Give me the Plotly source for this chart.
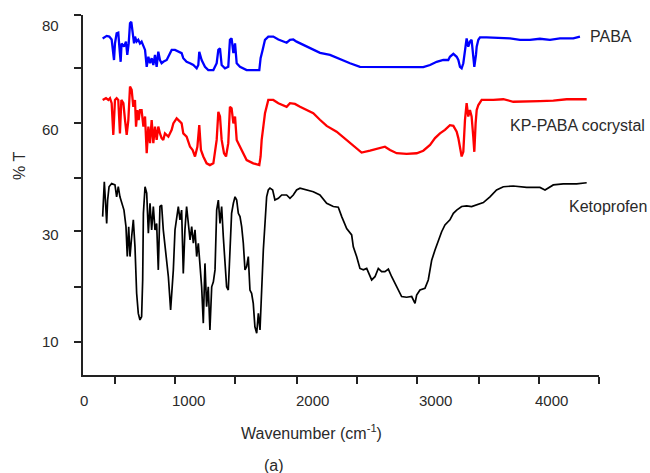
import plotly.graph_objects as go

# ---------------- data ----------------
paba_wn = [210, 244, 266, 286, 306, 314, 328, 342, 351, 362, 370, 390, 407, 418, 430, 441, 452, 463, 475, 483,
           497, 511, 525, 539, 554, 568, 582, 596, 610, 624, 638, 652, 666, 680, 694, 708, 722, 751, 779, 793,
           821, 849, 877, 891, 919, 948, 976, 1004, 1018, 1026, 1046, 1074, 1102, 1145, 1173, 1187, 1201, 1215,
           1243, 1271, 1285, 1299, 1314, 1328, 1342, 1370, 1398, 1426, 1533, 1544, 1561, 1581, 1609, 1651, 1694,
           1736, 1764, 1792, 1820, 1848, 1905, 1961, 2017, 2046, 2130, 2215, 2299, 2383, 2468, 2552, 2637, 2777,
           2918, 2975, 3031, 3087, 3129, 3143, 3172, 3200, 3214, 3228, 3242, 3256, 3270, 3284, 3298, 3312, 3326,
           3340, 3349, 3363, 3369, 3383, 3397, 3453, 3594, 3650, 3735, 3819, 3903, 3988, 4072, 4185, 4241]
paba_t = [93.5, 94.2, 94.0, 93.2, 87.5, 92.1, 94.9, 95.1, 91.2, 87.0, 92.1, 91.2, 92.6, 88.9, 92.1, 97.7, 98.1, 94.9, 92.1, 94.0,
          92.6, 93.1, 92.1, 92.6, 91.2, 90.3, 85.6, 88.4, 86.6, 88.0, 86.1, 88.9, 85.6, 89.8, 87.5, 86.6, 87.0, 87.5, 89.4, 90.3,
          90.3, 89.8, 89.4, 88.0, 87.0, 86.6, 86.1, 85.2, 86.1, 89.8, 87.5, 85.6, 84.7, 84.7, 86.6, 90.3, 90.7, 86.1,
          85.2, 85.6, 93.1, 93.5, 89.4, 92.1, 86.6, 85.6, 85.2, 84.7, 84.7, 88.0, 90.3, 93.1, 94.0, 94.0, 93.2,
          92.6, 92.3, 93.1, 93.2, 92.6, 91.7, 90.7, 89.8, 89.5, 88.9, 87.7, 86.6, 85.6, 85.6, 85.6, 85.4, 85.4,
          85.5, 86.1, 87.0, 87.5, 87.5, 88.4, 89.2, 88.4, 87.5, 85.6, 85.2, 86.6, 90.3, 93.5, 91.2, 92.6, 93.1,
          88.4, 85.6, 88.9, 91.2, 93.1, 93.8, 93.8, 93.7, 93.5, 93.1, 93.1, 93.4, 93.1, 93.5, 93.5, 94.0]

cocrystal_wn = [210, 238, 258, 272, 286, 300, 314, 328, 342, 356, 368, 385, 399, 413, 427, 441, 455, 469, 483, 492,
                503, 514, 525, 539, 554, 568, 582, 596, 610, 624, 638, 652, 666, 680, 694, 708, 722, 736, 765, 793,
                807, 835, 863, 877, 891, 919, 948, 970, 990, 1010, 1026, 1040, 1060, 1088, 1116, 1145, 1173, 1187,
                1201, 1215, 1235, 1252, 1271, 1285, 1299, 1314, 1328, 1342, 1370, 1398, 1426, 1482, 1533, 1544,
                1553, 1567, 1581, 1609, 1651, 1694, 1736, 1764, 1792, 1834, 1877, 1933, 1989, 2045, 2102, 2186,
                2271, 2355, 2397, 2468, 2552, 2594, 2637, 2693, 2777, 2862, 2918, 2975, 3017, 3059, 3101, 3143,
                3172, 3200, 3214, 3228, 3242, 3256, 3270, 3284, 3298, 3312, 3326, 3340, 3349, 3360, 3369, 3383,
                3411, 3509, 3594, 3678, 3791, 3903, 4016, 4129, 4298]
cocrystal_t = [76.4, 76.9, 76.4, 76.9, 75.5, 66.7, 76.4, 76.9, 76.4, 67.1, 76.4, 75.5, 70.8, 66.7, 70.8, 80.1, 79.2, 74.5, 76.4, 69.0,
               73.6, 70.8, 73.6, 73.6, 69.0, 71.8, 61.6, 69.0, 64.4, 70.8, 64.4, 69.0, 65.3, 69.0, 67.1, 65.8, 65.3, 67.1, 66.2, 68.1,
               69.9, 71.3, 70.4, 69.9, 67.1, 66.2, 63.4, 62.5, 60.7, 63.4, 69.4, 62.5, 60.7, 58.8, 58.3, 58.8, 65.3, 73.1,
               71.8, 65.3, 61.6, 60.7, 64.4, 74.5, 74.1, 69.9, 71.8, 65.3, 63.4, 61.6, 59.7, 58.8, 58.3, 60.7,
               65.3, 69.0, 72.7, 76.4, 76.4, 75.5, 75.0, 74.5, 75.5, 75.3, 74.5, 73.6, 72.7, 70.9, 69.2, 67.6,
               65.3, 63.0, 61.8, 62.3, 63.0, 63.4, 62.5, 61.6, 61.4, 61.6, 62.3, 63.9, 65.8, 67.1, 68.1, 69.4,
               69.2, 67.6, 65.8, 63.4, 60.7, 62.0, 70.8, 75.5, 71.8, 73.6, 71.8, 66.2, 62.0, 69.9, 73.6, 75.0,
               76.4, 76.4, 76.6, 75.9, 75.9, 76.1, 76.2, 76.6, 76.6]

keto_wn = [210, 216, 224, 233, 244, 252, 264, 286, 314, 328, 342, 356, 370, 390, 407, 418, 430, 441, 455, 469,
           483, 497, 511, 525, 539, 548, 554, 568, 582, 596, 610, 624, 638, 652, 666, 680, 694, 708, 722, 736,
           751, 765, 784, 798, 807, 821, 835, 849, 863, 877, 891, 905, 919, 933, 948, 962, 976, 990, 1004, 1018,
           1032, 1046, 1060, 1074, 1088, 1102, 1116, 1131, 1145, 1159, 1173, 1187, 1201, 1215, 1229, 1243, 1257,
           1271, 1285, 1299, 1314, 1328, 1342, 1356, 1370, 1384, 1398, 1412, 1426, 1440, 1454, 1468, 1482, 1496,
           1511, 1525, 1539, 1553, 1567, 1581, 1595, 1609, 1623, 1646, 1665, 1694, 1722, 1764, 1792, 1820, 1848,
           1877, 1933, 1989, 2045, 2102, 2158, 2200, 2229, 2271, 2313, 2327, 2355, 2383, 2412, 2440, 2482, 2510,
           2538, 2566, 2594, 2623, 2651, 2693, 2735, 2777, 2820, 2848, 2862, 2890, 2932, 2960, 2975, 2989, 3017,
           3045, 3073, 3101, 3143, 3172, 3200, 3242, 3284, 3326, 3369, 3425, 3481, 3537, 3594, 3678, 3791, 3903,
           3946, 3988, 4016, 4100, 4213, 4298]
keto_t = [44.0, 51.4, 53.7, 48.6, 42.1, 48.6, 52.3, 53.2, 52.8, 49.5, 52.3, 49.5, 47.7, 45.8, 41.2, 32.9, 41.2, 32.9, 38.4, 43.1,
          35.6, 22.7, 17.1, 15.3, 16.2, 26.4, 44.9, 52.3, 50.5, 39.4, 47.7, 40.3, 46.8, 40.3, 42.1, 29.2, 46.8, 47.2, 40.3, 35.6,
          31.9, 27.3, 18.1, 24.5, 29.2, 40.3, 44.0, 46.8, 43.1, 45.8, 28.2, 40.3, 46.8, 43.1, 37.5, 41.2, 36.6, 40.3, 32.9, 36.6,
          31.0, 24.5, 14.4, 31.0, 19.0, 24.5, 12.5, 24.5, 25.9, 29.2, 45.8, 48.6, 42.1, 46.8, 38.4, 31.0, 24.5,
          23.6, 34.7, 44.9, 47.7, 49.5, 48.6, 44.9, 44.0, 41.2, 36.6, 29.2, 30.1, 32.9, 23.6, 22.7, 19.9, 13.4,
          11.6, 17.1, 12.5, 24.5, 34.7, 42.1, 49.5, 51.4, 51.9, 51.4, 48.6, 49.1, 50.0, 50.0, 49.1, 50.0, 51.4,
          51.9, 51.4, 50.9, 50.0, 47.7, 46.8, 46.6, 44.0, 40.7, 38.9, 35.6, 32.9, 29.6, 29.2, 29.6, 26.4, 27.3,
          29.6, 28.7, 28.7, 29.4, 27.3, 24.5, 21.8, 21.6, 21.8, 19.9, 22.2, 23.6, 24.1, 26.4, 29.2, 31.9, 34.7,
          37.5, 39.8, 41.7, 43.1, 44.9, 45.8, 46.8, 47.0, 46.8, 47.2, 47.9, 49.5, 51.4, 52.3, 52.5, 52.1, 52.1,
          51.4, 52.1, 52.8, 53.1, 53.1, 53.4]

series_names = ["PABA", "KP-PABA cocrystal", "Ketoprofen"]
series_colors = ["#0000FF", "#FF0000", "#000000"]

# axis tick marks and tick labels
x_tick_marks = [314, 821, 1328, 1851, 2358, 2865, 3389, 3895, 4402]
x_label_pos = [52, 931, 1986, 3025, 4005]
x_label_text = ["0", "1000", "2000", "3000", "4000"]
y_tick_marks = [9.2, 24.4, 40, 54.7, 70, 85.3, 100]
y_label_pos = [9.4, 38.9, 68.3, 97.2]
y_label_text = ["10", "30", "60", "80"]

FONT = "Liberation Sans, Arial, sans-serif"
TXT = "#2a2a2a"
AX = "#222222"

fig = go.Figure()
for wn, t, name, col, w in [
    (paba_wn, paba_t, series_names[0], series_colors[0], 2.3),
    (cocrystal_wn, cocrystal_t, series_names[1], series_colors[1], 2.3),
    (keto_wn, keto_t, series_names[2], series_colors[2], 1.7),
]:
    fig.add_trace(go.Scatter(x=wn, y=t, mode="lines", name=name,
                             line=dict(color=col, width=w), showlegend=False))

fig.update_layout(
    width=650, height=473,
    margin=dict(l=83, r=51, t=15, b=98),
    paper_bgcolor="white", plot_bgcolor="white",
    font=dict(family=FONT, size=15, color=TXT),
    xaxis=dict(range=[44, 4402], showgrid=False, zeroline=False,
               showline=True, linecolor=AX, linewidth=1.6,
               tickmode="array", tickvals=x_tick_marks, showticklabels=False,
               ticks="outside", ticklen=7, tickwidth=1.5, tickcolor=AX),
    yaxis=dict(range=[0, 100], showgrid=False, zeroline=False,
               showline=True, linecolor=AX, linewidth=1.6,
               tickmode="array", tickvals=y_tick_marks, showticklabels=False,
               ticks="outside", ticklen=7, tickwidth=1.5, tickcolor=AX),
)

# tick labels (placed independently of the tick marks, as in the reference)
for v, s in zip(x_label_pos, x_label_text):
    fig.add_annotation(text=s, x=v, y=-0.072, xref="x", yref="paper",
                       xanchor="center", yanchor="middle", showarrow=False,
                       font=dict(size=15, color=TXT, family=FONT))
for v, s in zip(y_label_pos, y_label_text):
    fig.add_annotation(text=s, x=-0.043, y=v, xref="paper", yref="y",
                       xanchor="right", yanchor="middle", showarrow=False,
                       font=dict(size=15, color=TXT, family=FONT))

label_pos = [(0.979, 0.939), (0.824, 0.694), (0.938, 0.467)]
for name, (px, py) in zip(series_names, label_pos):
    fig.add_annotation(text=name, x=px, y=py, xref="paper", yref="paper",
                       xanchor="left", yanchor="middle", showarrow=False,
                       font=dict(size=16, color=TXT, family=FONT))

fig.add_annotation(text="Wavenumber (cm<sup>-1</sup>)", x=0.442, y=-0.158,
                   xref="paper", yref="paper", xanchor="center", yanchor="middle",
                   showarrow=False, font=dict(size=16, color=TXT, family=FONT))
fig.add_annotation(text="(a)", x=0.370, y=-0.250, xref="paper", yref="paper",
                   xanchor="center", yanchor="middle", showarrow=False,
                   font=dict(size=16, color=TXT, family=FONT))
fig.add_annotation(text="% T", x=-0.122, y=0.581, xref="paper", yref="paper",
                   xanchor="center", yanchor="middle", showarrow=False, textangle=-90,
                   font=dict(size=16, color=TXT, family=FONT))

fig.write_html("out.html", config={"displayModeBar": False},
               post_script="document.body.style.margin='0';")
